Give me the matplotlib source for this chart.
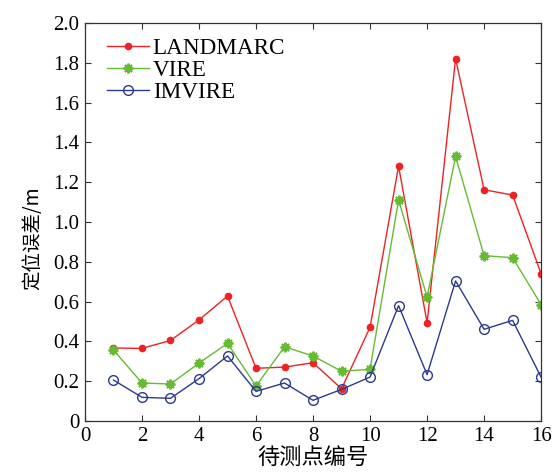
import matplotlib
matplotlib.use("Agg")
import matplotlib.pyplot as plt

x = list(range(1, 17))
landmarc = [0.367, 0.365, 0.405, 0.508, 0.628, 0.265, 0.271, 0.293, 0.162, 0.471,
            1.281, 0.494, 1.821, 1.162, 1.136, 0.740]
vire = [0.357, 0.191, 0.186, 0.291, 0.390, 0.176, 0.373, 0.327, 0.250, 0.260,
        1.111, 0.623, 1.330, 0.831, 0.821, 0.585]
imvire = [0.206, 0.119, 0.114, 0.213, 0.327, 0.149, 0.191, 0.104, 0.159, 0.221,
          0.580, 0.233, 0.704, 0.461, 0.506, 0.220]
series_names = ["LANDMARC", "VIRE", "IMVIRE"]
xticks = [0, 2, 4, 6, 8, 10, 12, 14, 16]
yticks = [0, 0.2, 0.4, 0.6, 0.8, 1.0, 1.2, 1.4, 1.6, 1.8, 2.0]
ytick_labels = ["0", "0.2", "0.4", "0.6", "0.8", "1.0", "1.2", "1.4", "1.6", "1.8", "2.0"]

serif = ["Liberation Serif", "DejaVu Serif"]
cjk = ["Noto Sans CJK SC", "DejaVu Sans"]

fig = plt.figure(figsize=(5.59, 4.76), dpi=100)
ax = fig.add_axes([0.152, 0.1155, 0.816, 0.836])

ax.plot(x, landmarc, color="#ee2222", lw=1.0, marker="o", ms=4.5, mfc="#ee2222", mec="#ee2222", label=series_names[0])
ax.plot(x, vire, color="#66bb33", lw=1.0, marker=(8, 2, 0), ms=7, mew=1.4, mfc="#66bb33", mec="#66bb33", label=series_names[1])
ax.plot(x, imvire, color="#2b3990", lw=1.0, marker="o", ms=7, mfc="none", mec="#2b3990", label=series_names[2])

ax.set_xlim(0, 16)
ax.set_ylim(0, 2.0)
ax.set_xticks(xticks)
ax.set_xticklabels([str(t) for t in xticks], fontfamily=serif, fontsize=15)
ax.set_yticks(yticks)
ax.set_yticklabels(ytick_labels, fontfamily=serif, fontsize=15)
ax.tick_params(direction="in", top=True, right=True, length=4, width=0.8, colors="#333333", labelcolor="black", pad=4)
for s in ax.spines.values():
    s.set_color("#333333")
    s.set_linewidth(0.9)

ax.set_xlabel("待测点编号", fontfamily=cjk, fontsize=16, labelpad=0)
ax.set_ylabel("定位误差/m", fontfamily=cjk, fontsize=14)
ax.yaxis.set_label_coords(-0.092, 0.46)

leg = ax.legend(loc="upper left", frameon=False, prop={"family": serif, "size": 16.7},
                handlelength=1.81, handletextpad=0.17, labelspacing=0.03,
                borderaxespad=0.0, borderpad=0.0, bbox_to_anchor=(0.048, 0.962))

fig.savefig("out.png", dpi=100)
